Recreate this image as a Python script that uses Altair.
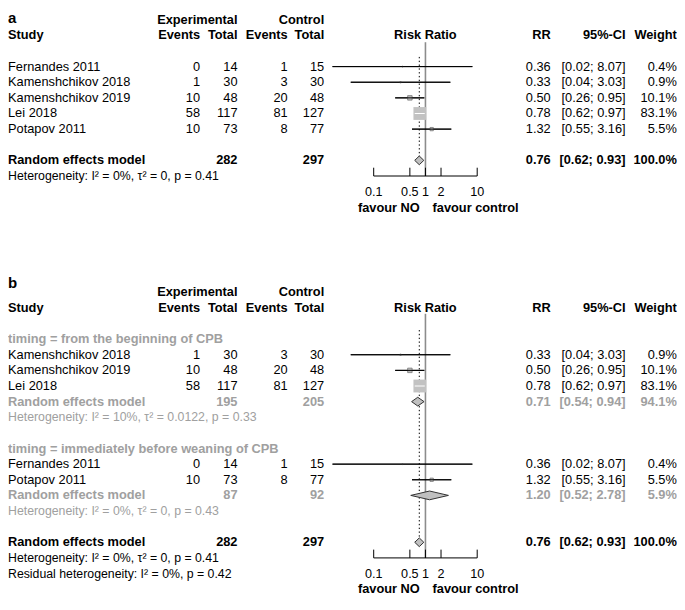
import math
import altair as alt
import pandas as pd

# ---------------- data ----------------
studies = ["Fernandes 2011", "Kamenshchikov 2018", "Kamenshchikov 2019", "Lei 2018", "Potapov 2011"]
ev_exp = [0, 1, 10, 58, 10]
n_exp = [14, 30, 48, 117, 73]
ev_ctl = [1, 3, 20, 81, 8]
n_ctl = [15, 30, 48, 127, 77]
rr = [0.36, 0.33, 0.50, 0.78, 1.32]
ci_lo = [0.016, 0.036, 0.26, 0.62, 0.55]
ci_hi = [8.07, 3.03, 0.95, 0.97, 3.16]
weight = [0.4, 0.9, 10.1, 83.1, 5.5]

sub_labels = ["timing = from the beginning of CPB", "timing = immediately before weaning of CPB"]
sub_members = [[1, 2, 3], [0, 4]]
sub_n_exp = [195, 87]
sub_n_ctl = [205, 92]
sub_rr = [0.71, 1.20]
sub_lo = [0.54, 0.52]
sub_hi = [0.94, 2.78]
sub_weight = [94.1, 5.9]
sub_het = ["Heterogeneity: I² = 10%, τ² = 0.0122, p = 0.33",
           "Heterogeneity: I² = 0%, τ² = 0, p = 0.43"]

overall_n_exp = 282
overall_n_ctl = 297
overall_rr = 0.76
overall_lo = 0.62
overall_hi = 0.93
overall_weight = 100.0
overall_het = "Heterogeneity: I² = 0%, τ² = 0, p = 0.41"
resid_het = "Residual heterogeneity: I² = 0%, p = 0.42"

ticks = [0.1, 0.5, 1, 2, 10]
tick_labels = ["0.1", "0.5", "1", "2", "10"]
label_left = "favour NO"
label_right = "favour control"
panel_titles = ["a", "b"]

# ---------------- layout ----------------
W, H = 669, 588
Y_DOMAIN = [-3.75, 33.875]
PANEL_B = 17.4375
X_RANGE = [365.7, 469.2]           # pixel position of 0.1 and 10
PPD = (X_RANGE[1] - X_RANGE[0]) / 2  # pixels per decade
COLS = {
    "study": (0, "left"), "ee": (192.1, "right"), "ne": (229.5, "right"),
    "ec": (279.7, "right"), "nc": (316.2, "right"), "rr": (542.7, "right"),
    "ci": (617.6, "right"), "w": (668.8, "right"), "mid": (417.4, "center"),
    "title": (0, "left"), "lleft": (411.8, "right"), "lright": (424.5, "left"),
}
TITLE_OFFSETS = [-2.82, -3.3]
FONT = "Liberation Sans"
BLACK = "#000000"
GREY = "#a0a0a0"
SIZE_MAX = 165
DIAMOND_H = 0.28

fmt_rr = lambda v: f"{v:.2f}"
fmt_ci = lambda lo, hi: f"[{lo:.2f}; {hi:.2f}]"
fmt_w = lambda w: f"{w:.1f}%"

texts = []
def add(y, col, text, kind="norm", color=BLACK):
    texts.append(dict(y=y, col=col, text=str(text), kind=kind, color=color))

ci_rows, diamonds, vlines, dotted, axes, tick_rows, tick_text = [], [], [], [], [], [], []

def header(base, title, toff):
    add(base + toff, "title", title, "title")
    add(base - 3, "ne", "Experimental", "bold")
    add(base - 3, "nc", "Control", "bold")
    add(base - 2, "study", "Study", "bold")
    add(base - 2, "ee", "Events", "bold")
    add(base - 2, "ne", "Total", "bold")
    add(base - 2, "ec", "Events", "bold")
    add(base - 2, "nc", "Total", "bold")
    add(base - 2, "mid", "Risk Ratio", "bold")
    add(base - 2, "rr", "RR", "bold")
    add(base - 2, "ci", "95%-CI", "bold")
    add(base - 2, "w", "Weight", "bold")

def study_row(y, i):
    add(y, "study", studies[i])
    add(y, "ee", ev_exp[i]); add(y, "ne", n_exp[i])
    add(y, "ec", ev_ctl[i]); add(y, "nc", n_ctl[i])
    add(y, "rr", fmt_rr(rr[i])); add(y, "ci", fmt_ci(ci_lo[i], ci_hi[i]))
    add(y, "w", fmt_w(weight[i]))
    size = SIZE_MAX * weight[i] / max(weight)
    half = math.sqrt(size) / 2 / PPD
    inside = ci_lo[i] >= rr[i] * 10 ** (-half) and ci_hi[i] <= rr[i] * 10 ** half
    ci_rows.append(dict(y=y, lo=ci_lo[i], hi=ci_hi[i], rr=rr[i], w=weight[i],
                        c="#ffffff" if inside else "#000000"))

def pooled_row(y, ne, nc, est, lo, hi, w, kind, color, did):
    add(y, "study", "Random effects model", kind, color)
    add(y, "ne", ne, kind, color); add(y, "nc", nc, kind, color)
    add(y, "rr", fmt_rr(est), kind, color); add(y, "ci", fmt_ci(lo, hi), kind, color)
    add(y, "w", fmt_w(w), kind, color)
    for xv, a, b in [(lo, y, y), (est, y - DIAMOND_H, y + DIAMOND_H), (hi, y, y)]:
        diamonds.append(dict(id=did, x=xv, y=a, y2=b))

def axis(base_axis, top_ref, top_dot, bottom_dot):
    vlines.append(dict(x=1, y=top_ref, y2=base_axis))
    dotted.append(dict(x=overall_rr, y=top_dot, y2=bottom_dot))
    axes.append(dict(x=ticks[0], x2=ticks[-1], y=base_axis))
    for t, lab in zip(ticks, tick_labels):
        tick_rows.append(dict(x=t, y=base_axis - 0.53, y2=base_axis))
        tick_text.append(dict(x=t, y=base_axis + 1.02, text=lab))
    add(base_axis + 2.02, "lleft", label_left, "bold")
    add(base_axis + 2.02, "lright", label_right, "bold")

# panel a
header(0, panel_titles[0], TITLE_OFFSETS[0])
for r, i in enumerate(range(len(studies))):
    study_row(r, i)
pooled_row(6, overall_n_exp, overall_n_ctl, overall_rr, overall_lo, overall_hi,
           overall_weight, "bold", BLACK, "a_all")
add(7, "study", overall_het, "het")
axis(7, -1.56, -0.62, 6)

# panel b
B = PANEL_B
header(B, panel_titles[1], TITLE_OFFSETS[1])
r = B
for g, members in enumerate(sub_members):
    add(r, "study", sub_labels[g], "bold", GREY)
    r += 1
    for i in members:
        study_row(r, i)
        r += 1
    pooled_row(r, sub_n_exp[g], sub_n_ctl[g], sub_rr[g], sub_lo[g], sub_hi[g],
               sub_weight[g], "bold", GREY, f"b_sub{g}")
    r += 1
    add(r, "study", sub_het[g], "het", GREY)
    r += 2
pooled_row(r, overall_n_exp, overall_n_ctl, overall_rr, overall_lo, overall_hi,
           overall_weight, "bold", BLACK, "b_all")
add(r + 1, "study", overall_het, "het")
add(r + 2, "study", resid_het, "het")
axis(r + 1, B - 1.62, B - 0.58, r)

# ---------------- chart ----------------
xs = alt.Scale(type="log", domain=[ticks[0], ticks[-1]], range=X_RANGE, nice=False)
ys = alt.Scale(domain=Y_DOMAIN, range=[0, H], nice=False, zero=False)
X = lambda f: alt.X(f, type="quantitative", scale=xs, axis=None, title=None)
Y = lambda f: alt.Y(f, type="quantitative", scale=ys, axis=None, title=None)

layers = []
layers.append(alt.Chart(pd.DataFrame(vlines)).mark_rule(color="#8c8c8c", strokeWidth=1.6)
              .encode(x=X("x"), y=Y("y"), y2="y2"))
layers.append(alt.Chart(pd.DataFrame(dotted)).mark_rule(color="#000000", strokeWidth=1, strokeDash=[1.4, 2.4])
              .encode(x=X("x"), y=Y("y"), y2="y2"))
ci_df = pd.DataFrame(ci_rows)
layers.append(alt.Chart(ci_df).mark_rule(color="#000000", strokeWidth=1)
              .transform_filter("datum.c == '#000000'")
              .encode(x=X("lo"), x2="hi", y=Y("y")))
layers.append(alt.Chart(ci_df).mark_square(filled=True, color="#bebebe", stroke="#7a7a7a",
                                           strokeWidth=0.8, opacity=1)
              .transform_filter("datum.c == '#000000'")
              .encode(x=X("rr"), y=Y("y"),
                      size=alt.Size("w:Q", scale=alt.Scale(domain=[0, max(weight)], range=[0, SIZE_MAX]),
                                    legend=None)))
layers.append(alt.Chart(ci_df).mark_square(filled=True, color="#c2c2c2", opacity=1)
              .transform_filter("datum.c == '#ffffff'")
              .encode(x=X("rr"), y=Y("y"),
                      size=alt.Size("w:Q", scale=alt.Scale(domain=[0, max(weight)], range=[0, SIZE_MAX]),
                                    legend=None)))
layers.append(alt.Chart(ci_df).mark_rule(strokeWidth=1)
              .encode(x=X("lo"), x2="hi", y=Y("y"), color=alt.Color("c:N", scale=None)))
layers.append(alt.Chart(pd.DataFrame(diamonds)).mark_area(fill="#c0c0c0", stroke="#333333",
                                                          strokeWidth=1, opacity=1, fillOpacity=1)
              .encode(x=X("x"), y=Y("y"), y2="y2", detail="id:N"))
layers.append(alt.Chart(pd.DataFrame(axes)).mark_rule(color="#000000", strokeWidth=1)
              .encode(x=X("x"), x2="x2", y=Y("y")))
layers.append(alt.Chart(pd.DataFrame(tick_rows)).mark_rule(color="#000000", strokeWidth=1)
              .encode(x=X("x"), y=Y("y"), y2="y2"))
layers.append(alt.Chart(pd.DataFrame(tick_text)).mark_text(font=FONT, fontSize=12.6, baseline="middle",
                                                           align="center", color="#000000")
              .encode(x=X("x"), y=Y("y"), text="text:N"))

tdf = pd.DataFrame(texts)
KINDS = {"norm": (12.8, "normal", "middle"), "bold": (12.8, "bold", "middle"),
         "het": (12.3, "normal", "middle"), "title": (15, "bold", "alphabetic")}
for col, (px, align) in COLS.items():
    for kd, (fs, fw, bl) in KINDS.items():
        sub = tdf[(tdf["col"] == col) & (tdf["kind"] == kd)]
        if len(sub) == 0:
            continue
        layers.append(alt.Chart(sub).mark_text(font=FONT, fontSize=fs, fontWeight=fw, align=align,
                                               baseline=bl)
                      .encode(x=alt.value(px), y=Y("y"), text="text:N",
                              color=alt.Color("color:N", scale=None)))

chart = alt.layer(*layers).properties(
    width=W, height=H, padding=0, autosize=alt.AutoSizeParams(type="none")
).configure_view(stroke=None)

chart.save("out.html", embed_options={"renderer": "svg", "actions": False})
